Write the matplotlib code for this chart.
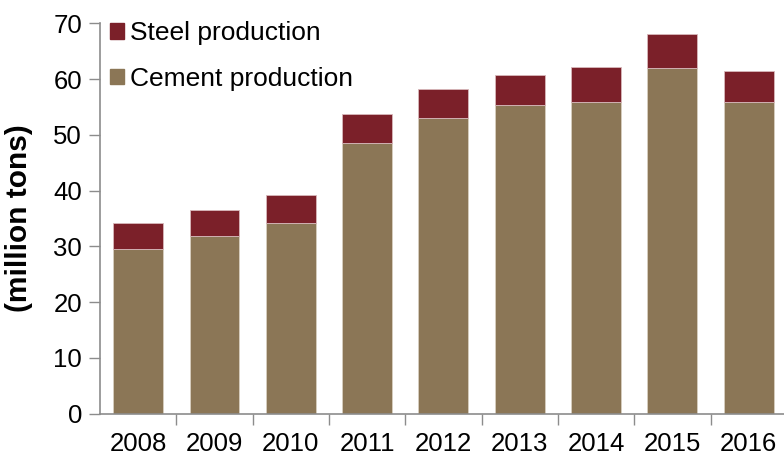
import numpy as np
import matplotlib.pyplot as plt
from matplotlib.patches import Patch

plt.rcParams['font.family'] = ['Liberation Sans', 'DejaVu Sans']

years = ["2008", "2009", "2010", "2011", "2012", "2013", "2014", "2015", "2016"]
cement = [29.6, 31.9, 34.2, 48.5, 53.1, 55.4, 55.9, 62.0, 55.9]
total = [34.2, 36.6, 39.3, 53.8, 58.3, 60.7, 62.1, 68.0, 61.4]
steel = [t - c for t, c in zip(total, cement)]

cement_color = "#8b7656"
steel_color = "#7b2029"
axis_color = "#8c8c8c"

fig = plt.figure(figsize=(7.84, 4.59), dpi=100)
ax = fig.add_axes([0.1276, 0.0987, 0.876, 0.8505])

x = np.arange(len(years))
ax.bar(x, cement, width=0.655, color=cement_color, edgecolor="#d8cfc0", linewidth=0.6)
ax.bar(x, steel, bottom=cement, width=0.655, color=steel_color, edgecolor="#d8b8bb", linewidth=0.6)

ax.set_xlim(-0.5, len(years) - 0.5)
ax.set_ylim(0, 70)
ax.set_yticks(range(0, 71, 10))
ax.tick_params(axis='y', labelsize=18.5, length=8, width=1, color=axis_color, pad=5)

ax.set_xticks(x)
ax.set_xticklabels(years)
ax.set_xticks(np.arange(0.5, len(years) - 0.5), minor=True)
ax.tick_params(axis='x', which='major', length=0, labelsize=18.5, pad=13)
ax.tick_params(axis='x', which='minor', length=8, width=1, color=axis_color)

for side in ["top", "right"]:
    ax.spines[side].set_visible(False)
for side in ["left", "bottom"]:
    ax.spines[side].set_color(axis_color)
    ax.spines[side].set_linewidth(1.2)

ax.set_ylabel("(million tons)", fontsize=21.5, fontweight="bold")
ax.yaxis.set_label_coords(-0.098, 0.5)

handles = [Patch(color=steel_color), Patch(color=cement_color)]
fig.legend(handles, ["Steel production", "Cement production"], loc="upper left",
           bbox_to_anchor=(0.11, 1.005), frameon=False, fontsize=19,
           handlelength=0.52, handleheight=0.52, handletextpad=0.25, labelspacing=0.8)

fig.savefig("out.png", dpi=100)
